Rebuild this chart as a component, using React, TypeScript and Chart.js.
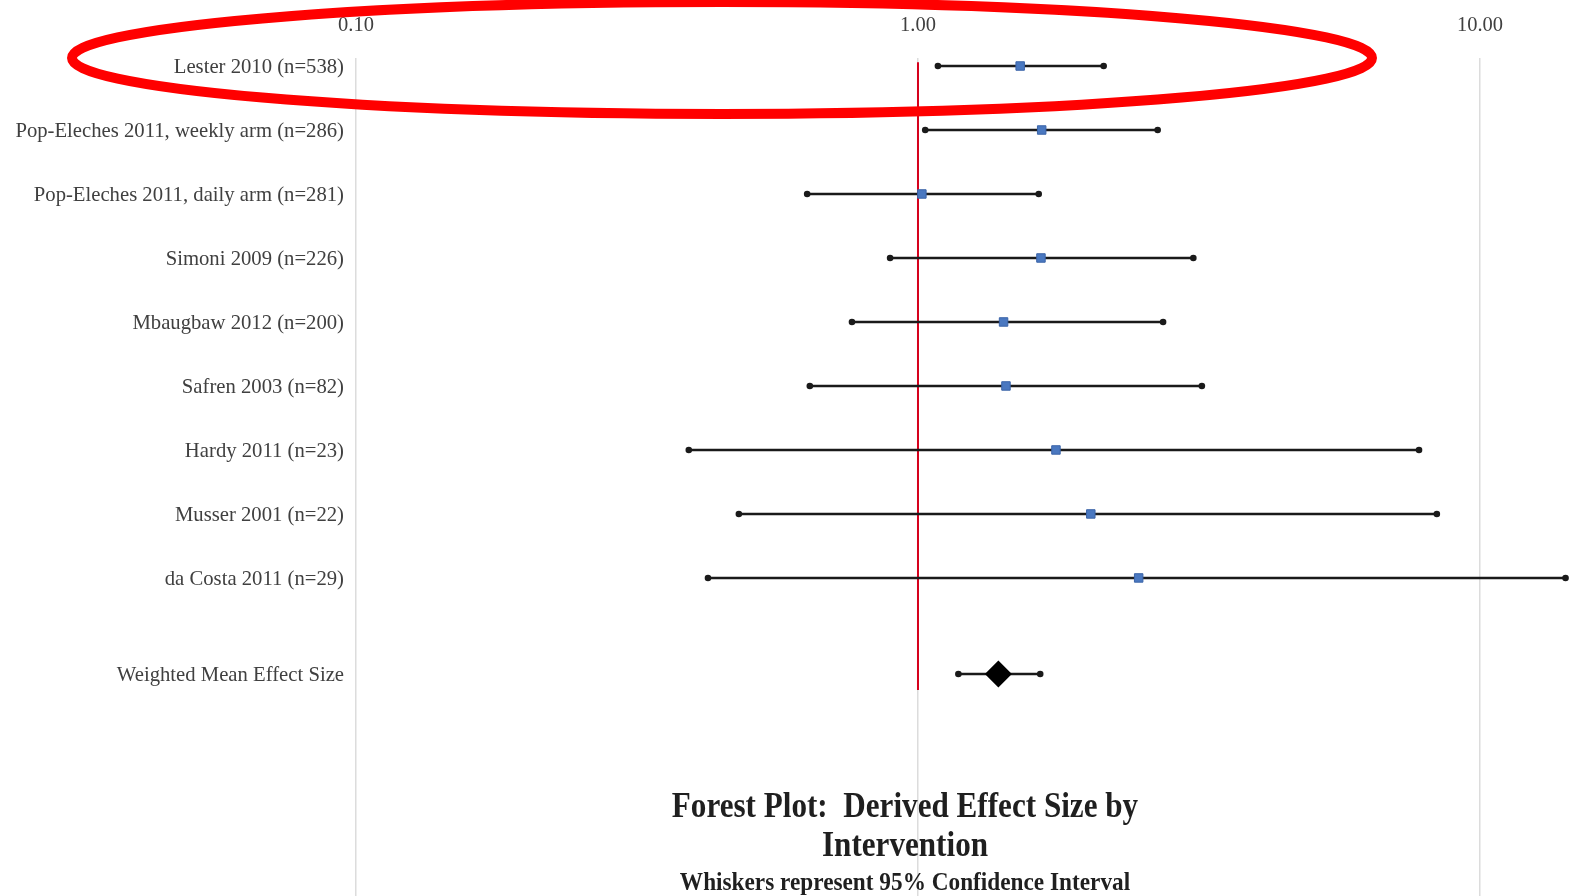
import React, { useEffect, useRef } from "react";
import { Chart, registerables } from "chart.js";

Chart.register(...registerables);

const studyLabels = [
  "Lester 2010 (n=538)",
  "Pop-Eleches 2011, weekly arm (n=286)",
  "Pop-Eleches 2011, daily arm (n=281)",
  "Simoni 2009 (n=226)",
  "Mbaugbaw 2012 (n=200)",
  "Safren 2003 (n=82)",
  "Hardy 2011 (n=23)",
  "Musser 2001 (n=22)",
  "da Costa 2011 (n=29)",
];
const studyRows = [0, 1, 2, 3, 4, 5, 6, 7, 8];
const effectSize = [1.52, 1.66, 1.016, 1.655, 1.42, 1.434, 1.76, 2.03, 2.47];
const ciLow = [1.085, 1.03, 0.635, 0.892, 0.763, 0.642, 0.391, 0.48, 0.423];
const ciHigh = [2.14, 2.67, 1.64, 3.09, 2.73, 3.2, 7.79, 8.38, 14.2];

const meanLabel = "Weighted Mean Effect Size";
const meanRow = 9.5;
const meanEffect = 1.39;
const meanLow = 1.18;
const meanHigh = 1.65;

const xTicks = [0.1, 1, 10];
const xTickLabels = ["0.10", "1.00", "10.00"];
const nullLineX = 1;
const nullLineY = [-0.06, 9.75];

const titleLines = ["Forest Plot:  Derived Effect Size by", "Intervention"];
const subtitle = "Whiskers represent 95% Confidence Interval";

const allRows = [...studyRows, meanRow];
const allLabels = [...studyLabels, meanLabel];

const overlayPlugin = {
  id: "overlay",
  afterDraw(chart: any) {
    const ctx = chart.ctx as CanvasRenderingContext2D;
    const cx = 905;
    const drawText = (t: string, y: number, font: string, sx: number) => {
      ctx.save();
      ctx.font = font;
      ctx.fillStyle = "#1f1f1f";
      ctx.textAlign = "center";
      ctx.textBaseline = "alphabetic";
      ctx.translate(cx, y);
      ctx.scale(sx, 1);
      ctx.fillText(t, 0, 0);
      ctx.restore();
    };
    drawText(titleLines[0], 817, "bold 36px 'Liberation Serif', serif", 0.865);
    drawText(titleLines[1], 856, "bold 36px 'Liberation Serif', serif", 0.865);
    drawText(subtitle, 890, "bold 26px 'Liberation Serif', serif", 0.895);
    ctx.save();
    ctx.beginPath();
    ctx.ellipse(722, 58, 650, 56, 0, 0, Math.PI * 2);
    ctx.strokeStyle = "#ff0000";
    ctx.lineWidth = 10;
    ctx.stroke();
    ctx.restore();
  },
};

export default function App() {
  const ref = useRef<HTMLCanvasElement>(null);
  useEffect(() => {
    document.body.style.margin = "0";
    document.body.style.overflow = "hidden";
    const lineStyle = {
      type: "line",
      borderColor: "#1a1a1a",
      backgroundColor: "#1a1a1a",
      borderWidth: 2.5,
      pointRadius: 3.3,
      pointBorderWidth: 0,
      order: 3,
    };
    const ciDatasets: any[] = studyRows.map((r, i) => ({
      ...lineStyle,
      data: [
        { x: ciLow[i], y: r },
        { x: ciHigh[i], y: r },
      ],
    }));
    ciDatasets.push({
      ...lineStyle,
      data: [
        { x: meanLow, y: meanRow },
        { x: meanHigh, y: meanRow },
      ],
    });
    const chart = new Chart(ref.current!, {
      type: "scatter",
      data: {
        datasets: [
          {
            type: "line",
            data: nullLineY.map((y) => ({ x: nullLineX, y })),
            borderColor: "#d6001c",
            borderWidth: 2,
            pointRadius: 0,
            order: 4,
          } as any,
          ...ciDatasets,
          {
            type: "scatter",
            data: studyRows.map((r, i) => ({ x: effectSize[i], y: r })),
            pointStyle: "rect",
            pointRadius: 6,
            backgroundColor: "#4a78c0",
            borderColor: "#3b64a8",
            borderWidth: 1,
            order: 1,
          },
          {
            type: "scatter",
            data: [{ x: meanEffect, y: meanRow }],
            pointStyle: "rectRot",
            pointRadius: 13.5,
            backgroundColor: "#000000",
            borderColor: "#000000",
            borderWidth: 0,
            order: 1,
          },
        ],
      },
      options: {
        responsive: false,
        animation: false,
        layout: { padding: 0, autoPadding: false },
        plugins: { legend: { display: false }, tooltip: { enabled: false } },
        scales: {
          x: {
            type: "logarithmic",
            position: "top",
            min: 0.1,
            max: 14.58,
            afterBuildTicks: (s: any) => {
              s.ticks = xTicks.map((v) => ({ value: v, major: true }));
            },
            afterFit: (s: any) => {
              s.height = 58;
              s.paddingLeft = 0;
              s.paddingRight = 0;
            },
            ticks: {
              padding: 20,
              color: "#404040",
              font: { family: "'Liberation Serif', serif", size: 20.5 },
              callback: (v: any) => {
                const i = xTicks.indexOf(Number(v));
                return i >= 0 ? xTickLabels[i] : "";
              },
            },
            grid: { color: "#dcdcdc", lineWidth: 1.5, drawTicks: false },
            border: { display: false },
          },
          y: {
            type: "linear",
            reverse: true,
            min: -0.125,
            max: 12.97,
            afterBuildTicks: (s: any) => {
              s.ticks = allRows.map((v) => ({ value: v }));
            },
            afterFit: (s: any) => {
              s.width = 356;
              s.paddingTop = 0;
              s.paddingBottom = 0;
            },
            ticks: {
              padding: 12,
              labelOffset: 2,
              color: "#404040",
              font: { family: "'Liberation Serif', serif", size: 20.7 },
              callback: (v: any) => {
                const i = allRows.indexOf(Number(v));
                return i >= 0 ? allLabels[i] : "";
              },
            },
            grid: { display: false, drawTicks: false },
            border: { display: false },
          },
        },
      },
      plugins: [overlayPlugin],
    } as any);
    return () => chart.destroy();
  }, []);
  return <canvas ref={ref} width={1572} height={896} style={{ display: "block" }} />;
}
